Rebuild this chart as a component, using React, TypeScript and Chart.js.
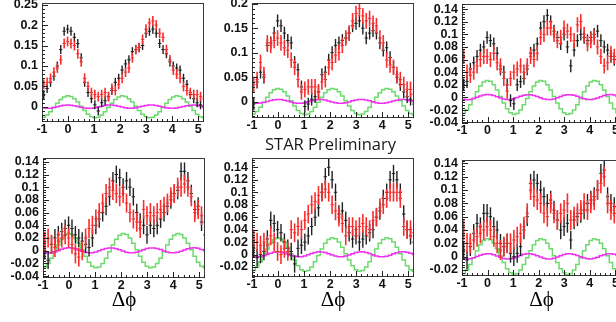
import React, { useEffect, useRef } from "react";
import { Chart, registerables } from "chart.js";

Chart.register(...registerables);

// ---- data ----
const BIN_X = [-0.935, -0.804, -0.673, -0.542, -0.411, -0.280, -0.149, -0.018, 0.113, 0.244, 0.374, 0.505, 0.636, 0.767, 0.898, 1.029, 1.160, 1.291, 1.422, 1.553, 1.684, 1.815, 1.945, 2.076, 2.207, 2.338, 2.469, 2.600, 2.731, 2.862, 2.993, 3.124, 3.255, 3.386, 3.516, 3.647, 3.778, 3.909, 4.040, 4.171, 4.302, 4.433, 4.564, 4.695, 4.826, 4.957, 5.087, 5.218];
const HALF_BIN = 0.065;
const X_RANGE = [-1, 5.22];
const X_TICKS = [-1, 0, 1, 2, 3, 4, 5];

const GREEN = [-0.0255, -0.0201, -0.0117, -0.0015, 0.0089, 0.0180, 0.0243, 0.0269, 0.0255, 0.0201, 0.0117, 0.0015, -0.0089, -0.0180, -0.0243, -0.0269,
  -0.0255, -0.0201, -0.0117, -0.0015, 0.0089, 0.0180, 0.0243, 0.0269, 0.0255, 0.0201, 0.0117, 0.0015, -0.0089, -0.0180, -0.0243, -0.0269,
  -0.0255, -0.0201, -0.0117, -0.0015, 0.0089, 0.0180, 0.0243, 0.0269, 0.0255, 0.0201, 0.0117, 0.0015, -0.0089, -0.0180, -0.0243, -0.0269];

const MAGENTA = [-0.0028, -0.0035, -0.0031, -0.0018, 0.0001, 0.0021, 0.0037, 0.0045, 0.0042, 0.0030, 0.0011, -0.0010, -0.0026, -0.0034, -0.0033, -0.0021,
  -0.0002, 0.0018, 0.0035, 0.0044, 0.0043, 0.0032, 0.0014, -0.0006, -0.0024, -0.0034, -0.0034, -0.0023, -0.0006, 0.0015, 0.0033, 0.0043,
  0.0044, 0.0034, 0.0017, -0.0003, -0.0021, -0.0033, -0.0034, -0.0025, -0.0009, 0.0012, 0.0030, 0.0042, 0.0045, 0.0037, 0.0020, 0.0000];

const P1_BLACK = [0.030, 0.045, 0.060, 0.075, 0.100, 0.140, 0.185, 0.190, 0.185, 0.170, 0.155, 0.120, 0.060, 0.035, 0.020, 0.005, -0.010, 0.010, 0.015, 0.025, 0.040, 0.060, 0.070, 0.090, 0.105, 0.115, 0.135, 0.140, 0.145, 0.150, 0.180, 0.185, 0.190, 0.180, 0.155, 0.140, 0.130, 0.110, 0.100, 0.095, 0.090, 0.070, 0.055, 0.030, 0.020, 0.010, 0.005, 0.000];
const P1_RED = [0.055, 0.060, 0.070, 0.085, 0.095, 0.115, 0.155, 0.160, 0.155, 0.150, 0.130, 0.110, 0.070, 0.050, 0.035, 0.030, 0.025, 0.030, 0.035, 0.025, 0.045, 0.040, 0.055, 0.070, 0.085, 0.095, 0.120, 0.140, 0.145, 0.165, 0.190, 0.205, 0.210, 0.200, 0.180, 0.170, 0.140, 0.115, 0.090, 0.080, 0.070, 0.050, 0.040, 0.035, 0.030, 0.030, 0.025, 0.020];

const P2_BLACK = [-0.005, 0.040, 0.060, 0.050, 0.115, 0.120, 0.140, 0.165, 0.155, 0.140, 0.125, 0.120, 0.080, 0.065, 0.030, -0.010, -0.005, 0.005, 0.010, 0.020, 0.055, 0.060, 0.085, 0.100, 0.115, 0.120, 0.125, 0.130, 0.140, 0.155, 0.160, 0.165, 0.150, 0.130, 0.140, 0.145, 0.140, 0.120, 0.105, 0.110, 0.090, 0.070, 0.050, 0.035, 0.020, 0.010, 0.005, -0.005];
const P2_RED = [0.035, 0.045, 0.080, 0.055, 0.120, 0.115, 0.125, 0.130, 0.120, 0.110, 0.105, 0.085, 0.070, 0.045, 0.020, 0.025, 0.030, 0.030, 0.030, 0.020, 0.040, 0.045, 0.070, 0.080, 0.095, 0.100, 0.115, 0.130, 0.140, 0.165, 0.180, 0.190, 0.175, 0.165, 0.170, 0.160, 0.155, 0.130, 0.120, 0.085, 0.075, 0.070, 0.055, 0.045, 0.035, 0.025, 0.025, 0.015];

const P3_BLACK = [0.020, 0.025, 0.045, 0.055, 0.065, 0.075, 0.080, 0.095, 0.090, 0.085, 0.070, 0.045, 0.040, 0.020, -0.005, -0.010, 0.020, 0.025, 0.030, 0.045, 0.070, 0.075, 0.085, 0.110, 0.120, 0.130, 0.120, 0.105, 0.095, 0.085, 0.100, 0.080, 0.050, 0.075, 0.090, 0.100, 0.095, 0.090, 0.095, 0.100, 0.105, 0.090, 0.080, 0.075, 0.065, 0.060, 0.045, 0.040];
const P3_RED = [0.065, 0.040, 0.035, 0.040, 0.050, 0.060, 0.065, 0.065, 0.060, 0.070, 0.055, 0.050, 0.030, 0.010, 0.030, 0.040, 0.045, 0.050, 0.040, 0.050, 0.065, 0.060, 0.070, 0.095, 0.100, 0.110, 0.110, 0.100, 0.090, 0.095, 0.110, 0.105, 0.100, 0.090, 0.115, 0.120, 0.100, 0.085, 0.090, 0.095, 0.080, 0.065, 0.050, 0.055, 0.070, 0.065, 0.060, 0.055];

const P4_BLACK = [0.000, -0.015, 0.010, 0.020, 0.025, 0.030, 0.035, 0.040, 0.035, 0.025, 0.020, 0.015, 0.010, 0.005, 0.020, 0.040, 0.050, 0.060, 0.070, 0.085, 0.110, 0.120, 0.115, 0.100, 0.110, 0.100, 0.085, 0.060, 0.045, 0.040, 0.025, 0.040, 0.035, 0.040, 0.050, 0.060, 0.070, 0.080, 0.090, 0.095, 0.125, 0.125, 0.110, 0.090, 0.065, 0.070, 0.045, 0.025];
const P4_RED = [0.015, 0.020, 0.010, 0.005, 0.015, 0.020, 0.025, 0.020, 0.010, -0.005, -0.010, 0.000, 0.020, 0.035, 0.040, 0.050, 0.060, 0.075, 0.090, 0.100, 0.095, 0.090, 0.085, 0.090, 0.075, 0.060, 0.050, 0.045, 0.035, 0.065, 0.055, 0.060, 0.055, 0.060, 0.065, 0.070, 0.075, 0.085, 0.090, 0.100, 0.100, 0.105, 0.100, 0.085, 0.060, 0.065, 0.055, 0.045];

const P5_BLACK = [0.010, -0.005, 0.000, 0.005, 0.025, 0.055, 0.050, 0.040, 0.035, 0.020, 0.010, 0.005, -0.015, 0.010, 0.015, 0.020, 0.030, 0.045, 0.060, 0.075, 0.100, 0.125, 0.140, 0.120, 0.100, 0.065, 0.070, 0.055, 0.035, 0.025, 0.030, 0.020, 0.025, 0.030, 0.035, 0.040, 0.060, 0.070, 0.090, 0.100, 0.120, 0.130, 0.120, 0.100, 0.065, 0.040, 0.030, 0.020];
const P5_RED = [0.025, 0.020, 0.015, 0.020, 0.015, 0.030, 0.020, 0.005, 0.000, 0.010, 0.005, 0.040, 0.035, 0.045, 0.040, 0.055, 0.065, 0.080, 0.085, 0.095, 0.100, 0.105, 0.100, 0.080, 0.070, 0.060, 0.050, 0.030, 0.045, 0.045, 0.040, 0.045, 0.050, 0.045, 0.040, 0.055, 0.060, 0.075, 0.080, 0.090, 0.100, 0.100, 0.100, 0.090, 0.045, 0.040, 0.040, 0.035];

const P6_BLACK = [0.010, -0.005, 0.015, 0.035, 0.050, 0.045, 0.065, 0.065, 0.060, 0.045, 0.040, 0.020, 0.015, 0.020, 0.005, 0.000, 0.005, 0.015, 0.040, 0.060, 0.110, 0.115, 0.110, 0.100, 0.090, 0.080, 0.085, 0.070, 0.055, 0.040, 0.045, 0.050, 0.025, 0.055, 0.060, 0.065, 0.070, 0.080, 0.085, 0.090, 0.100, 0.125, 0.130, 0.090, 0.080, 0.075, 0.070, 0.050];
const P6_RED = [0.040, 0.020, 0.020, 0.025, 0.030, 0.035, 0.040, 0.045, 0.040, 0.030, 0.020, 0.010, 0.015, 0.020, 0.020, 0.025, 0.030, 0.035, 0.045, 0.065, 0.100, 0.090, 0.085, 0.080, 0.065, 0.060, 0.080, 0.065, 0.055, 0.065, 0.070, 0.080, 0.055, 0.060, 0.065, 0.070, 0.080, 0.070, 0.080, 0.085, 0.100, 0.110, 0.120, 0.080, 0.070, 0.065, 0.060, 0.055];

const ERR_BLACK = [0.011, 0.013, 0.010, 0.014, 0.014, 0.014];
const ERR_RED = [0.012, 0.016, 0.012, 0.015, 0.015, 0.015];

const Y_TICKS_A = [0, 0.05, 0.1, 0.15, 0.2, 0.25];
const Y_TICKS_B = [0, 0.05, 0.1, 0.15, 0.2];
const Y_TICKS_C = [-0.04, -0.02, 0, 0.02, 0.04, 0.06, 0.08, 0.1, 0.12, 0.14];
const Y_TICKS_D = [-0.02, 0, 0.02, 0.04, 0.06, 0.08, 0.1, 0.12, 0.14];
const Y_MIN = [-0.037, -0.0335, -0.0405, -0.043, -0.036, -0.029];
const Y_MAX = [0.254, 0.2015, 0.148, 0.146, 0.155, 0.145];

const BLACK_SERIES = [P1_BLACK, P2_BLACK, P3_BLACK, P4_BLACK, P5_BLACK, P6_BLACK];
const RED_SERIES = [P1_RED, P2_RED, P3_RED, P4_RED, P5_RED, P6_RED];
const Y_TICKS = [Y_TICKS_A, Y_TICKS_B, Y_TICKS_C, Y_TICKS_C, Y_TICKS_D, Y_TICKS_D];
const Y_MAJOR = [0.05, 0.05, 0.02, 0.02, 0.02, 0.02];

// ---- layout ----
const LAYOUT = [
  { left: 0, top: 0, width: 204, padTop: 3, areaH: 119, xH: 18, title: false },
  { left: 210, top: 0, width: 204, padTop: 3, areaH: 115, xH: 18, title: false },
  { left: 420, top: 0, width: 201, padTop: 4, areaH: 119, xH: 18, title: false },
  { left: 1, top: 150, width: 204, padTop: 8, areaH: 120, xH: 44, title: true },
  { left: 210, top: 150, width: 204, padTop: 8, areaH: 119, xH: 45, title: true },
  { left: 420, top: 150, width: 201, padTop: 10, areaH: 116, xH: 46, title: true },
];
const Y_AXIS_W = 42;

const RED = "rgb(248,45,45)";
const BLACK = "#202020";
const GREEN_C = "rgb(110,218,110)";
const MAGENTA_C = "rgb(238,50,238)";
const TICK_FONT = { family: "'Liberation Sans', Arial, sans-serif", weight: "bold", size: 12.5 };

const errorBarPlugin = {
  id: "errbars",
  afterDatasetDraw(chart: any, args: any) {
    const ds: any = chart.data.datasets[args.index];
    if (!ds.errY) return;
    const { ctx, chartArea: a, scales } = chart;
    const xs = scales.x, ys = scales.y;
    ctx.save();
    ctx.beginPath();
    ctx.rect(a.left, a.top, a.right - a.left, a.bottom - a.top);
    ctx.clip();
    ctx.strokeStyle = ds.errColor;
    ds.data.forEach((p: any) => {
      const px = xs.getPixelForValue(p.x);
      const py = ys.getPixelForValue(p.y);
      const t = ys.getPixelForValue(p.y + ds.errY);
      const b = ys.getPixelForValue(p.y - ds.errY);
      const l = xs.getPixelForValue(p.x - HALF_BIN);
      const r = xs.getPixelForValue(p.x + HALF_BIN);
      ctx.lineWidth = ds.errWidth;
      ctx.beginPath();
      ctx.moveTo(px, t);
      ctx.lineTo(px, b);
      ctx.stroke();
      ctx.lineWidth = 1;
      ctx.beginPath();
      ctx.moveTo(l, py);
      ctx.lineTo(r, py);
      ctx.stroke();
    });
    ctx.restore();
  },
};

const framePlugin = {
  id: "frame",
  afterDraw(chart: any, _args: any, opts: any) {
    const { ctx, chartArea: a, scales } = chart;
    const xs = scales.x, ys = scales.y;
    ctx.save();
    ctx.strokeStyle = "#3a3a3a";
    ctx.lineWidth = 1;
    ctx.strokeRect(a.left + 0.5, a.top + 0.5, a.right - a.left - 1, a.bottom - a.top - 1);
    ctx.strokeStyle = "#222";
    const xStep = 0.2;
    const xn0 = Math.ceil(xs.min / xStep - 1e-6), xn1 = Math.floor(xs.max / xStep + 1e-6);
    ctx.beginPath();
    for (let n = xn0; n <= xn1; n++) {
      const v = n * xStep;
      const major = Math.abs(v - Math.round(v)) < 1e-6;
      const px = Math.round(xs.getPixelForValue(v)) + 0.5;
      ctx.moveTo(px, a.bottom);
      ctx.lineTo(px, a.bottom - (major ? 6 : 3));
    }
    const yMajor = opts.yMajor;
    const yStep = yMajor / 5;
    const yn0 = Math.ceil(ys.min / yStep - 1e-6), yn1 = Math.floor(ys.max / yStep + 1e-6);
    for (let n = yn0; n <= yn1; n++) {
      const v = n * yStep;
      const major = n % 5 === 0;
      const py = Math.round(ys.getPixelForValue(v)) + 0.5;
      ctx.moveTo(a.left, py);
      ctx.lineTo(a.left + (major ? 6 : 3), py);
    }
    ctx.stroke();
    ctx.restore();
  },
};

function Panel({ idx }: { idx: number }) {
  const ref = useRef<HTMLCanvasElement | null>(null);
  const L = LAYOUT[idx];
  const h = L.padTop + L.areaH + L.xH;
  useEffect(() => {
    const canvas = ref.current!;
    const pts = (vals: number[]) => BIN_X.map((x, i) => ({ x, y: vals[i] }));
    const curve = (vals: number[]) => [
      { x: X_RANGE[0], y: vals[0] },
      ...BIN_X.map((x, i) => ({ x, y: vals[i] })),
      { x: X_RANGE[1] + 0.1, y: vals[vals.length - 1] },
    ];
    const yTicks = Y_TICKS[idx];
    const chart = new Chart(canvas, {
      type: "line",
      data: {
        datasets: [
          {
            label: "red",
            data: pts(RED_SERIES[idx]),
            showLine: false,
            pointRadius: 0,
            errY: ERR_RED[idx],
            errColor: RED,
            errWidth: 1.6,
            order: 0,
          } as any,
          {
            label: "black",
            data: pts(BLACK_SERIES[idx]),
            showLine: false,
            pointRadius: 0,
            errY: ERR_BLACK[idx],
            errColor: BLACK,
            errWidth: 1.4,
            order: 1,
          } as any,
          {
            label: "v4",
            data: curve(MAGENTA),
            borderColor: MAGENTA_C,
            borderWidth: 1.5,
            pointRadius: 0,
            stepped: "middle",
            fill: false,
            order: 2,
          } as any,
          {
            label: "v3",
            data: curve(GREEN),
            borderColor: GREEN_C,
            borderWidth: 1.5,
            pointRadius: 0,
            stepped: "middle",
            fill: false,
            order: 3,
          } as any,
        ],
      },
      options: {
        responsive: false,
        animation: false,
        layout: { padding: { top: L.padTop, left: 0, right: 0, bottom: 0 } },
        plugins: {
          legend: { display: false },
          tooltip: { enabled: false },
          frame: { yMajor: Y_MAJOR[idx] },
        } as any,
        scales: {
          x: {
            type: "linear",
            min: X_RANGE[0],
            max: X_RANGE[1],
            afterBuildTicks: (s: any) => {
              s.ticks = X_TICKS.map((v) => ({ value: v }));
            },
            afterFit: (s: any) => {
              s.height = L.xH;
              s.paddingLeft = 0;
              s.paddingRight = 0;
            },
            grid: { display: false, drawTicks: false, tickLength: 0 },
            border: { display: false },
            ticks: {
              padding: 0,
              autoSkip: false,
              maxRotation: 0,
              color: "#111",
              font: TICK_FONT as any,
              callback: (v: any) => String(v),
            },
            title: {
              display: L.title,
              text: "Δϕ",
              color: "#000",
              font: { family: "'Liberation Serif', 'DejaVu Serif', serif", size: 21 },
              padding: { top: 0, bottom: 9 },
            },
          },
          y: {
            type: "linear",
            min: Y_MIN[idx],
            max: Y_MAX[idx],
            afterBuildTicks: (s: any) => {
              s.ticks = yTicks.map((v) => ({ value: v }));
            },
            afterFit: (s: any) => {
              s.width = Y_AXIS_W;
              s.paddingTop = 0;
              s.paddingBottom = 0;
            },
            grid: { display: false, drawTicks: false, tickLength: 0 },
            border: { display: false },
            ticks: {
              padding: 4,
              autoSkip: false,
              color: "#111",
              font: TICK_FONT as any,
              callback: (v: any) => String(v),
            },
          },
        },
      } as any,
      plugins: [errorBarPlugin as any, framePlugin as any],
    });
    return () => chart.destroy();
  }, []);
  return (
    <canvas
      ref={ref}
      width={L.width}
      height={h}
      style={{ position: "absolute", left: L.left, top: L.top, width: L.width, height: h, display: "block" }}
    />
  );
}

export default function App() {
  return (
    <div
      style={{
        position: "fixed",
        left: 0,
        top: 0,
        width: 616,
        height: 322,
        overflow: "hidden",
        background: "#fff",
      }}
    >
      {[0, 1, 2, 3, 4, 5].map((i) => (
        <Panel key={i} idx={i} />
      ))}
      <div
        style={{
          position: "absolute",
          left: 265,
          top: 134,
          fontFamily: "'Open Sans', 'Liberation Sans', sans-serif",
          fontSize: 16.5,
          lineHeight: "20px",
          color: "#1a1a1a",
          whiteSpace: "nowrap",
          zIndex: 2,
        }}
      >
        STAR Preliminary
      </div>
    </div>
  );
}
